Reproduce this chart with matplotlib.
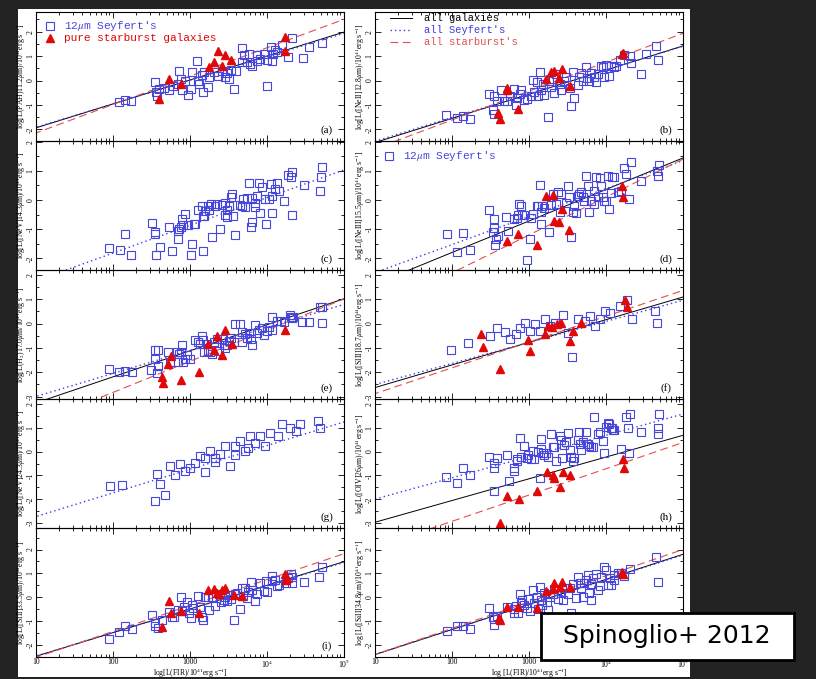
import numpy as np
import matplotlib
matplotlib.use("Agg")
import matplotlib.pyplot as plt
from matplotlib.patches import Rectangle
from matplotlib.ticker import MultipleLocator, LogLocator, NullFormatter

plt.rcParams["font.family"] = "Liberation Serif"
plt.rcParams["mathtext.fontset"] = "stix"
plt.rcParams["axes.unicode_minus"] = False

# ---- data: (log L_FIR, log L_line) pairs, 12um Seyferts and pure starbursts ----
sey_a = [(2.08,-0.89),(2.16,-0.79),(2.24,-0.82),(2.55,-0.08),(2.56,-0.46),(2.57,-0.64),(2.60,-0.36),(2.66,-0.29),
         (2.73,-0.40),(2.78,-0.22),(2.84,-0.15),(2.86,0.38),(2.88,0.06),(2.90,-0.40),(2.94,-0.01),(2.97,-0.60),
         (3.01,-0.36),(3.03,0.33),(3.09,0.78),(3.10,-0.01),(3.12,-0.13),(3.16,0.24),(3.17,-0.46),(3.18,0.33),
         (3.23,-0.26),(3.25,0.15),(3.31,0.33),(3.36,0.19),(3.42,0.40),(3.45,0.13),(3.48,0.29),(3.51,0.06),
         (3.53,0.44),(3.57,-0.33),(3.60,0.40),(3.67,1.31),(3.67,0.75),(3.70,1.03),(3.74,0.75),(3.77,1.10),
         (3.78,0.68),(3.81,0.61),(3.87,0.79),(3.87,1.03),(3.91,0.89),(3.96,1.10),(4.00,-0.22),(4.00,0.85),
         (4.05,1.38),(4.06,0.78),(4.08,1.10),(4.11,1.24),(4.13,1.17),(4.20,1.44),(4.27,0.96),(4.33,1.75),
         (4.47,0.93),(4.55,1.38),(4.71,1.54)]
sb_a = [(2.60,-0.74),(2.73,0.08),(2.88,-0.15),(3.25,0.54),(3.31,0.75),(3.36,1.21),(3.42,0.61),(3.45,1.03),
        (3.53,0.85),(4.23,1.76),(4.24,1.21)]

sey_b = [(1.92,-1.40),(2.06,-1.54),(2.14,-1.44),(2.23,-1.58),(2.48,-0.54),(2.54,-0.64),(2.53,-1.19),(2.55,-1.38),
         (2.58,-0.82),(2.64,-0.40),(2.67,-0.85),(2.71,-0.85),(2.75,-0.64),(2.81,-0.36),(2.83,-0.99),(2.84,-0.71),
         (2.88,-0.54),(2.90,-0.40),(2.94,-0.78),(2.97,-0.74),(3.03,-0.64),(3.05,0.01),(3.07,-0.46),(3.10,-0.08),
         (3.12,-0.64),(3.14,0.33),(3.16,-0.40),(3.18,-0.13),(3.20,-0.60),(3.25,-1.47),(3.26,-0.01),(3.29,-0.26),
         (3.31,0.06),(3.33,-0.50),(3.35,0.26),(3.40,-0.15),(3.42,-0.40),(3.45,-0.01),(3.48,0.15),(3.53,-0.29),
         (3.55,-1.06),(3.57,0.33),(3.59,-0.71),(3.64,-0.18),(3.65,0.13),(3.68,0.29),(3.70,-0.01),(3.74,0.54),
         (3.75,0.10),(3.78,-0.01),(3.81,0.29),(3.85,0.15),(3.87,-0.08),(3.89,0.26),(3.94,0.61),(3.96,0.54),
         (3.98,0.13),(4.00,0.65),(4.04,0.19),(4.07,0.61),(4.10,0.57),(4.13,0.61),(4.18,0.82),(4.24,1.03),
         (4.31,0.99),(4.32,0.71),(4.46,0.26),(4.52,1.07),(4.65,1.40),(4.67,0.85)]
sb_b = [(2.60,-1.33),(2.62,-1.57),(2.71,-0.40),(2.71,-0.32),(2.86,-1.15),(3.22,0.06),(3.29,0.33),(3.33,0.38),
        (3.39,0.10),(3.43,0.47),(3.53,-0.22),(4.21,1.07),(4.22,1.13)]

sey_c = [(1.95,-1.63),(2.09,-1.73),(2.16,-1.18),(2.24,-1.90),(2.50,-0.79),(2.54,-1.18),(2.55,-1.11),(2.56,-1.90),
         (2.61,-1.60),(2.73,-0.92),(2.77,-1.75),(2.84,-1.07),(2.84,-1.35),(2.86,-1.00),(2.88,-0.92),(2.90,-0.64),
         (2.91,-0.86),(2.94,-0.47),(2.97,-0.86),(3.01,-1.90),(3.03,-1.51),(3.05,-0.81),(3.07,-0.81),(3.10,-0.36),
         (3.16,-0.19),(3.17,-1.75),(3.17,-0.55),(3.18,-0.55),(3.19,-0.38),(3.23,-0.19),(3.25,-0.36),(3.27,-0.13),
         (3.28,-1.28),(3.33,-0.21),(3.35,-0.13),(3.39,-1.00),(3.42,-0.16),(3.45,-0.10),(3.46,-0.53),(3.48,-0.36),
         (3.48,-0.58),(3.51,-0.19),(3.53,0.10),(3.54,0.21),(3.56,-0.56),(3.59,-1.20),(3.65,-0.16),(3.67,-0.19),
         (3.69,0.04),(3.71,-0.24),(3.74,0.06),(3.77,0.58),(3.79,-0.92),(3.80,0.06),(3.81,-0.75),(3.84,-0.10),
         (3.85,-0.24),(3.87,0.15),(3.90,0.57),(3.91,-0.44),(3.93,0.44),(3.98,0.04),(3.99,-0.81),(4.02,0.02),
         (4.05,0.55),(4.06,-0.44),(4.07,0.15),(4.11,0.38),(4.13,0.58),(4.16,0.32),(4.22,-0.04),(4.27,0.86),
         (4.31,0.77),(4.33,0.97),(4.33,-0.50),(4.48,0.51),(4.69,0.32),(4.70,0.77),(4.71,1.14)]
sb_c = []

sey_d = [(1.93,-1.15),(2.06,-1.80),(2.14,-1.12),(2.23,-1.71),(2.48,-0.33),(2.53,-1.11),(2.54,-0.64),(2.55,-0.95),
         (2.56,-1.54),(2.57,-1.34),(2.60,-1.24),(2.70,-0.58),(2.73,-1.07),(2.81,-0.66),(2.84,-0.62),(2.86,-0.50),
         (2.87,-0.13),(2.90,-0.19),(2.91,-0.50),(2.94,-0.50),(2.97,-2.05),(3.01,-1.34),(3.03,-0.62),(3.05,-0.47),
         (3.10,-0.19),(3.12,-0.19),(3.14,0.51),(3.15,-0.84),(3.16,-0.41),(3.17,-0.19),(3.19,-0.28),(3.26,-1.09),
         (3.29,-0.16),(3.31,0.21),(3.35,-0.13),(3.38,0.27),(3.40,-0.41),(3.42,0.21),(3.48,-0.11),(3.51,0.49),
         (3.52,0.10),(3.55,-1.26),(3.57,-0.41),(3.59,-0.19),(3.61,-0.44),(3.64,0.15),(3.65,0.21),(3.67,0.27),
         (3.70,0.10),(3.72,-0.02),(3.74,0.83),(3.76,0.49),(3.78,-0.41),(3.81,-0.02),(3.84,-0.13),(3.85,0.29),
         (3.87,0.77),(3.90,0.10),(3.92,0.74),(3.94,0.49),(3.96,0.10),(3.98,-0.02),(4.00,-0.05),(4.02,0.83),
         (4.04,-0.32),(4.06,0.24),(4.08,0.77),(4.11,0.77),(4.16,0.27),(4.20,0.29),(4.24,1.11),(4.26,0.89),
         (4.30,0.04),(4.32,1.31),(4.46,0.66),(4.66,1.00),(4.68,0.81),(4.69,1.19)]
sb_d = [(2.71,-1.41),(2.86,-1.18),(3.10,-1.54),(3.22,0.13),(3.31,0.18),(3.33,-0.73),(3.39,-0.77),(3.43,-0.32),
        (3.52,-1.03),(4.21,0.49),(4.22,0.10)]

sey_e = [(1.95,-1.88),(2.08,-1.99),(2.16,-1.94),(2.25,-1.99),(2.49,-1.90),(2.54,-1.46),(2.55,-1.07),(2.58,-1.07),
         (2.57,-2.04),(2.58,-1.74),(2.71,-1.18),(2.74,-1.60),(2.83,-1.15),(2.84,-1.57),(2.86,-1.25),(2.88,-1.15),
         (2.90,-0.88),(2.91,-1.60),(2.93,-1.46),(2.96,-1.29),(3.00,-1.46),(3.07,-0.68),(3.10,-0.74),(3.13,-0.83),
         (3.16,-0.51),(3.17,-0.69),(3.18,-1.18),(3.22,-0.83),(3.23,-1.11),(3.26,-1.18),(3.29,-1.25),(3.31,-0.76),
         (3.35,-0.65),(3.38,-1.11),(3.41,-0.65),(3.44,-0.88),(3.46,-1.01),(3.48,-0.88),(3.51,-0.71),(3.53,-0.60),
         (3.57,-0.76),(3.59,0.0),(3.65,0.0),(3.67,-0.35),(3.68,-0.76),(3.72,-0.42),(3.74,-0.60),(3.77,-0.38),
         (3.79,-0.65),(3.81,-0.88),(3.85,-0.07),(3.87,-0.38),(3.90,-0.28),(3.94,-0.18),(3.96,-0.49),(4.00,-0.32),
         (4.03,-0.14),(4.06,0.28),(4.07,-0.28),(4.13,0.10),(4.18,0.10),(4.22,0.07),(4.30,0.35),(4.31,0.28),
         (4.32,0.21),(4.34,0.28),(4.46,0.07),(4.55,0.07),(4.69,0.69),(4.71,0.04),(4.72,0.69)]
sb_e = [(2.63,-2.18),(2.65,-2.43),(2.71,-1.67),(2.75,-1.32),(2.88,-2.32),(3.12,-1.99),(3.23,-0.83),(3.31,-1.07),
        (3.35,-0.51),(3.42,-1.29),(3.45,-0.28),(3.55,-0.83),(4.24,-0.28)]

sey_f = [(1.99,-1.09),(2.21,-0.80),(2.49,-0.51),(2.58,-0.17),(2.69,-0.34),(2.75,-0.63),(2.83,-0.42),(2.88,-0.17),
         (2.95,0.03),(3.01,-0.30),(3.08,-0.01),(3.14,-0.30),(3.21,0.20),(3.27,-0.09),(3.34,0.03),(3.44,0.37),
         (3.51,-0.38),(3.56,-1.38),(3.64,0.20),(3.73,0.12),(3.79,0.32),(3.86,-0.09),(3.92,0.20),(3.99,0.53),
         (4.05,0.45),(4.18,0.74),(4.27,0.95),(4.34,0.20),(4.64,0.53),(4.66,0.03)]
sb_f = [(2.38,-0.42),(2.40,-0.97),(2.62,-1.88),(2.99,-0.67),(3.01,-1.13),(3.21,-0.42),(3.25,-0.09),(3.30,-0.13),
        (3.36,-0.01),(3.42,0.03),(3.53,-0.72),(3.57,-0.30),(3.68,0.03),(4.25,0.95),(4.27,0.70)]

sey_g = [(1.96,-1.46),(2.12,-1.42),(2.57,-0.92),(2.55,-2.05),(2.61,-1.34),(2.74,-0.59),(2.81,-1.00),(2.87,-0.50),
         (2.94,-0.80),(3.00,-0.67),(3.06,-0.46),(3.13,-0.17),(3.19,-0.25),(3.26,0.04),(3.32,-0.25),(3.39,-0.09),
         (3.45,0.25),(3.52,-0.59),(3.58,0.25),(3.65,0.46),(3.71,0.04),(3.78,0.67),(3.84,0.34),(3.91,0.67),
         (3.97,0.25),(4.04,0.79),(4.14,0.67),(4.19,1.17),(4.30,1.00),(4.38,0.88),(4.43,1.17),(4.66,1.29),
         (4.69,1.00),(2.68,-1.80),(3.19,-0.84),(3.32,-0.42),(3.58,-0.13),(3.75,0.13)]
sb_g = []

sey_h = [(1.92,-1.06),(2.06,-1.33),(2.14,-0.69),(2.23,-0.97),(2.48,-0.22),(2.54,-0.46),(2.54,-0.69),(2.55,-1.67),
         (2.58,-0.25),(2.71,-0.14),(2.74,-1.22),(2.80,-0.83),(2.81,-0.69),(2.84,-0.39),(2.84,-0.32),(2.88,0.56),
         (2.90,-0.22),(2.93,0.24),(2.97,-0.28),(2.99,-0.14),(3.03,-0.32),(3.05,0.03),(3.07,-0.32),(3.12,0.0),
         (3.14,-1.11),(3.15,0.51),(3.16,0.10),(3.18,-0.08),(3.19,-0.14),(3.22,-0.04),(3.25,-0.22),(3.29,0.72),
         (3.31,0.19),(3.33,0.19),(3.35,-0.39),(3.40,0.65),(3.42,0.47),(3.43,-0.28),(3.45,0.28),(3.48,0.38),
         (3.51,0.79),(3.53,0.06),(3.55,-0.22),(3.57,-0.39),(3.59,-0.29),(3.64,0.47),(3.65,0.83),(3.66,0.31),
         (3.67,0.06),(3.70,0.42),(3.74,0.83),(3.75,0.33),(3.77,0.33),(3.78,0.24),(3.81,0.19),(3.83,0.17),
         (3.85,1.44),(3.89,0.75),(3.92,0.83),(3.96,0.44),(3.98,-0.04),(4.00,1.03),(4.03,1.21),(4.04,1.14),
         (4.06,1.00),(4.08,0.97),(4.09,0.89),(4.11,0.89),(4.20,0.10),(4.26,1.44),(4.29,0.97),(4.30,-0.08),
         (4.31,1.56),(4.46,0.83),(4.67,0.72),(4.68,1.00),(4.69,1.56)]
sb_h = [(2.71,-1.85),(2.87,-1.99),(3.10,-1.64),(3.23,-0.85),(3.31,-0.99),(3.33,-1.11),(3.40,-1.47),(3.44,-0.85),
        (3.53,-0.99),(4.22,-0.32),(4.23,-0.67),(2.62,-2.97)]

sey_i = [(1.95,-1.74),(2.08,-1.47),(2.16,-1.19),(2.25,-1.33),(2.51,-0.74),(2.54,-1.08),(2.55,-1.19),(2.58,-1.29),
         (2.63,-0.94),(2.73,-0.60),(2.76,-0.81),(2.79,-0.83),(2.84,-0.53),(2.88,0.0),(2.90,-0.56),(2.92,-0.42),
         (2.96,-0.18),(2.99,-0.67),(3.01,-0.88),(3.03,-0.32),(3.04,-0.46),(3.10,0.06),(3.13,-0.42),(3.16,-0.81),
         (3.17,-0.97),(3.20,0.03),(3.23,0.0),(3.25,-0.53),(3.29,0.0),(3.33,-0.36),(3.40,-0.18),(3.42,0.14),
         (3.44,-0.11),(3.45,0.03),(3.48,-0.14),(3.49,0.10),(3.53,-0.08),(3.57,-0.97),(3.59,0.14),(3.61,0.19),
         (3.65,-0.50),(3.67,0.38),(3.69,0.06),(3.72,0.38),(3.74,-0.04),(3.75,0.24),(3.79,0.65),(3.80,0.31),
         (3.85,-0.14),(3.87,0.14),(3.91,0.58),(3.96,0.28),(3.99,0.69),(4.00,0.24),(4.06,0.89),(4.07,0.69),
         (4.11,0.72),(4.13,0.47),(4.16,0.51),(4.25,0.61),(4.27,0.79),(4.31,0.97),(4.33,0.83),(4.33,0.58),
         (4.48,0.65),(4.68,0.86),(4.71,1.28)]
sb_i = [(2.64,-1.25),(2.73,-0.14),(2.75,-0.64),(2.88,-0.56),(3.12,-0.64),(3.23,0.31),(3.31,0.33),(3.35,0.19),
        (3.38,0.14),(3.42,0.31),(3.45,0.40),(3.57,0.10),(3.67,0.06),(4.24,0.97),(4.26,0.79),(4.25,0.72)]

sey_j = [(1.93,-1.40),(2.06,-1.22),(2.14,-1.19),(2.23,-1.33),(2.48,-0.46),(2.53,-0.81),(2.54,-0.92),(2.55,-1.15),
         (2.58,-0.78),(2.71,-0.42),(2.80,-0.50),(2.81,-0.67),(2.83,-0.36),(2.86,-0.67),(2.88,0.14),(2.90,-0.25),
         (2.91,-0.11),(2.94,-0.32),(2.97,-0.46),(2.99,-0.08),(3.01,-0.56),(3.05,0.31),(3.07,-0.22),(3.10,0.0),
         (3.12,-0.50),(3.14,0.44),(3.16,-0.11),(3.17,-0.32),(3.19,0.17),(3.23,-0.18),(3.25,-0.53),(3.27,0.0),
         (3.31,0.14),(3.33,0.33),(3.38,-0.08),(3.42,0.17),(3.44,-0.11),(3.46,0.38),(3.51,0.14),(3.53,0.38),
         (3.55,-0.64),(3.57,0.56),(3.61,-0.04),(3.64,0.83),(3.66,0.61),(3.68,0.38),(3.70,0.03),(3.72,0.61),
         (3.74,0.72),(3.77,0.93),(3.78,0.19),(3.80,-0.11),(3.81,0.56),(3.83,0.79),(3.87,0.97),(3.90,0.31),
         (3.92,0.47),(3.94,0.83),(3.98,1.28),(4.00,1.14),(4.03,0.51),(4.05,0.79),(4.07,0.51),(4.10,0.72),
         (4.11,0.93),(4.16,1.0),(4.20,1.0),(4.24,0.89),(4.31,1.17),(4.65,1.67),(4.67,0.65)]
sb_j = [(2.61,-0.88),(2.62,-0.97),(2.71,-0.39),(2.86,-0.42),(3.10,-0.46),(3.22,0.28),(3.31,0.33),(3.33,0.61),
        (3.40,0.42),(3.43,0.65),(3.53,0.42),(4.21,1.07),(4.22,0.97)]

# linear fits in log space: (slope, intercept); None where no fit is drawn
fit_all = [(0.978,-2.91),(0.987,-3.52),None,(1.08,-3.96),(1.07,-4.33),
           (0.93,-3.56),None,(0.91,-3.87),(0.99,-3.46),(1.05,-3.45)]
fit_sey = [(0.96,-2.87),(0.97,-3.45),(0.95,-3.72),(0.96,-3.45),(0.945,-3.94),
           (0.865,-3.37),(0.99,-3.71),(0.89,-2.88),(0.98,-3.44),(1.04,-3.43)]
fit_sb = [(1.16,-3.30),(1.18,-3.97),None,(1.30,-5.10),(1.28,-5.39),
          (1.06,-3.94),None,(1.10,-5.12),(1.085,-3.60),(1.10,-3.50)]

ylabels = [r"log[L(PAH)11.2$\mu$m)/10$^{41}$erg s$^{-1}$]",
           r"log[L([NeII]12.8$\mu$m)/10$^{41}$erg s$^{-1}$]",
           r"log[L([NeV]14.3$\mu$m)/10$^{41}$erg s$^{-1}$]",
           r"log[L([NeIII]15.5$\mu$m)/10$^{41}$erg s$^{-1}$]",
           r"log[L(H$_2$)17.0$\mu$m/10$^{41}$erg s$^{-1}$]",
           r"log[L([SIII]18.7$\mu$m)/10$^{41}$erg s$^{-1}$]",
           r"log[L([NeV]24.3$\mu$m)/10$^{41}$erg s$^{-1}$]",
           r"log[L([OIV]26$\mu$m)/10$^{41}$erg s$^{-1}$]",
           r"log[L([SIII]33.5$\mu$m)/10$^{41}$erg s$^{-1}$]",
           r"log [L([SiII]34.8$\mu$m)/10$^{41}$erg s$^{-1}$]"]
xlabels = [r"log[L(FIR)/10$^{41}$erg s$^{-1}$]", r"log [L(FIR)/10$^{41}$erg s$^{-1}$]"]
letters = ["(a)", "(b)", "(c)", "(d)", "(e)", "(f)", "(g)", "(h)", "(i)", "(j)"]
row_ylims = [(-2.47, 2.8), (-2.4, 2.02), (-3.1, 2.2), (-3.2, 2.2), (-2.5, 2.9)]
xticks = [10, 100, 1000, 1e4, 1e5]
xticklabels = ["10", "100", "1000", r"10$^4$", r"10$^5$"]

sey_pts = [sey_a, sey_b, sey_c, sey_d, sey_e, sey_f, sey_g, sey_h, sey_i, sey_j]
sb_pts = [sb_a, sb_b, sb_c, sb_d, sb_e, sb_f, sb_g, sb_h, sb_i, sb_j]

BLUE = "#4646dc"
RED = "#e00808"
W, H = 816, 679

fig = plt.figure(figsize=(W / 100, H / 100), dpi=100)
fig.patch.set_facecolor("#232323")
# white page behind the panels
fig.patches.append(Rectangle((18 / W, 1 - 677 / H), 672 / W, 668 / H,
                             transform=fig.transFigure, facecolor="white",
                             edgecolor="none", zorder=-5))

col_left = [36, 375]
ax_w = 308
row_top = [12, 141, 270, 399, 528]
ax_h = 129
xfit = np.array([0.5, 5.5])

for k in range(10):
    r, c = divmod(k, 2)
    ax = fig.add_axes([col_left[c] / W, 1 - (row_top[r] + ax_h) / H, ax_w / W, ax_h / H])
    ax.patch.set_alpha(0)
    ax.set_xscale("log")
    ax.set_xlim(10, 1e5)
    ax.set_ylim(*row_ylims[r])

    for fit, style in ((fit_all[k], dict(color="black", lw=0.7, ls="-")),
                       (fit_sey[k], dict(color="#3c3ce6", lw=1.0, ls=(0, (1, 2.2)))),
                       (fit_sb[k], dict(color="#e05050", lw=0.8, ls=(0, (7, 4))))):
        if fit is not None:
            ax.plot(10 ** xfit, fit[1] + fit[0] * xfit, **style)

    if sey_pts[k]:
        sx, sy = zip(*sey_pts[k])
        ax.plot(10 ** np.array(sx), sy, ls="none", marker="s", ms=5.2, mfc="none",
                mec=BLUE, mew=0.8)
    if sb_pts[k]:
        tx, ty = zip(*sb_pts[k])
        ax.plot(10 ** np.array(tx), ty, ls="none", marker="^", ms=5.2, color=RED)

    ax.yaxis.set_major_locator(MultipleLocator(1))
    ax.yaxis.set_minor_locator(MultipleLocator(0.5))
    ax.xaxis.set_major_locator(LogLocator(base=10, numticks=10))
    ax.xaxis.set_minor_locator(LogLocator(base=10, subs=np.arange(2, 10), numticks=20))
    ax.xaxis.set_minor_formatter(NullFormatter())
    ax.tick_params(which="both", direction="in", top=True, right=True, width=0.6)
    ax.tick_params(which="major", length=4.5)
    ax.tick_params(which="minor", length=2.5)
    ax.tick_params(axis="y", labelsize=5.5, pad=1.2)
    for lab in ax.get_yticklabels():
        lab.set_rotation(90)
        lab.set_va("center")
    for s in ax.spines.values():
        s.set_linewidth(0.8)

    if r == 4:
        ax.set_xticks(xticks, xticklabels)
        ax.tick_params(axis="x", labelsize=5.5, pad=1)
        ax.set_xlabel(xlabels[c], fontsize=5.5)
        ax.xaxis.set_label_coords(0.5, -0.072)
    else:
        ax.set_xticklabels([])
    ax.set_ylabel(ylabels[k], fontsize=5.6, color="black")
    ax.yaxis.set_label_coords(-0.026, 0.5)

    ax.text(0.945, 0.085, letters[k], transform=ax.transAxes, fontsize=8,
            ha="center", va="center")

    if k == 0:
        ax.plot([0.045], [0.895], transform=ax.transAxes, marker="s", ms=5.2,
                mfc="none", mec=BLUE, mew=0.8)
        ax.text(0.092, 0.895, "12$\\mu$m Seyfert's", transform=ax.transAxes,
                color=BLUE, fontsize=8, family="Liberation Mono", va="center")
        ax.plot([0.045], [0.795], transform=ax.transAxes, marker="^", ms=5.2, color=RED)
        ax.text(0.092, 0.795, "pure starburst galaxies", transform=ax.transAxes,
                color=RED, fontsize=8, family="Liberation Mono", va="center")
    if k == 1:
        for i, (lab, col, ls, lw) in enumerate((("all galaxies", "black", "-", 0.7),
                                                ("all Seyfert's", "#3c3ce6", (0, (1, 2.2)), 1.0),
                                                ("all starburst's", "#e05050", (0, (7, 4)), 0.8))):
            yy = 0.955 - 0.095 * i
            ax.plot([0.05, 0.12], [yy, yy], transform=ax.transAxes, color=col, ls=ls, lw=lw)
            ax.text(0.16, yy, lab, transform=ax.transAxes, color=col, fontsize=7.5,
                    family="Liberation Mono", va="center")
    if k == 3:
        ax.plot([0.045], [0.88], transform=ax.transAxes, marker="s", ms=5.2,
                mfc="none", mec=BLUE, mew=0.8)
        ax.text(0.09, 0.88, "12$\\mu$m Seyfert's", transform=ax.transAxes,
                color=BLUE, fontsize=8, family="Liberation Mono", va="center")

# citation tag
fig.patches.append(Rectangle((541 / W, 1 - 660 / H), 253 / W, 47 / H,
                             transform=fig.transFigure, facecolor="white",
                             edgecolor="black", lw=2, zorder=5))
fig.text(667 / W, 1 - 636 / H, "Spinoglio+ 2012", fontsize=18, family="DejaVu Sans",
         ha="center", va="center", zorder=6)

fig.savefig("out.png", dpi=100, facecolor=fig.get_facecolor())
